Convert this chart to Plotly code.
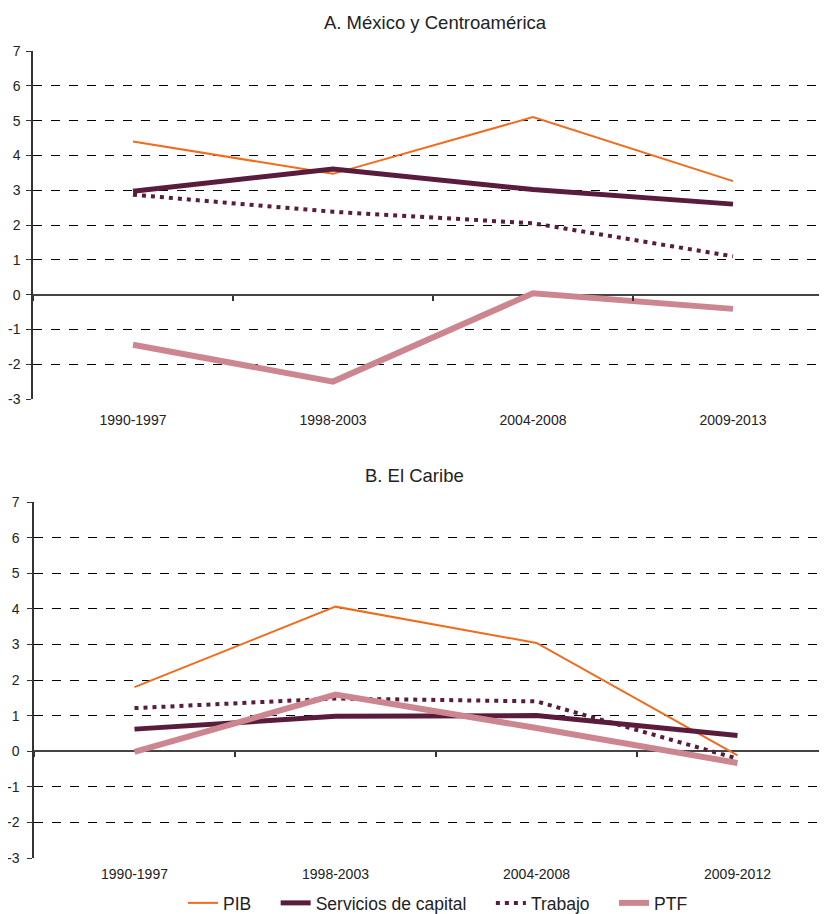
import plotly.graph_objects as go

periodos_a = ["1990-1997", "1998-2003", "2004-2008", "2009-2013"]
periodos_b = ["1990-1997", "1998-2003", "2004-2008", "2009-2012"]
valores_y = list(range(-3, 8))
etiquetas_y = [str(v) for v in valores_y]  # plain hyphen minus, like the original

# A. México y Centroamérica
pib_a = [4.4, 3.47, 5.1, 3.26]
capital_a = [2.97, 3.61, 3.02, 2.6]
trabajo_a = [2.87, 2.38, 2.05, 1.1]
ptf_a = [-1.44, -2.5, 0.04, -0.41]

# B. El Caribe
pib_b = [1.8, 4.06, 3.04, -0.12]
capital_b = [0.62, 0.98, 1.0, 0.44]
trabajo_b = [1.21, 1.48, 1.4, -0.21]
ptf_b = [-0.02, 1.59, 0.65, -0.33]

# page body has an 8px default margin, so the figure is shrunk by that much
OFF = 8
VW, VH = 827, 914
W, H = VW - OFF, VH - OFF
FONT = "Liberation Sans, Arial, sans-serif"
TXT = "#222222"
PAD = "\u00a0" * 4

estilos = [
    ("PIB" + PAD, "#F26A1B", 2, "solid"),
    ("Servicios de capital" + PAD, "#5A1C3C", 5, "solid"),
    ("Trabajo" + PAD, "#5A1C3C", 4, "4px,5px"),
    ("PTF", "#CC8690", 6, "solid"),
]


def px(x):
    # screen x -> paper fraction
    return (x - OFF) / W


def py(y):
    # screen y -> paper fraction
    return (H - (y - OFF)) / H


fig = go.Figure()

paneles = [
    ("", "y", periodos_a, [pib_a, capital_a, trabajo_a, ptf_a], True),
    ("2", "y2", periodos_b, [pib_b, capital_b, trabajo_b, ptf_b], False),
]
for suf, yref, periodos, series, show in paneles:
    xs = list(range(len(periodos)))
    for (nombre, color, ancho, dash), vals in zip(estilos, series):
        fig.add_trace(go.Scatter(
            x=xs, y=vals, mode="lines", name=nombre,
            line=dict(color=color, width=ancho, dash=dash),
            xaxis="x" + suf, yaxis=yref, showlegend=show,
        ))

# dummy traces so the zero-line tick axes render
fig.add_trace(go.Scatter(x=[None], y=[None], xaxis="x3", yaxis="y", showlegend=False))
fig.add_trace(go.Scatter(x=[None], y=[None], xaxis="x4", yaxis="y2", showlegend=False))

top_dom = [py(399), py(51)]
bot_dom = [py(858), py(502)]
x_top = [px(33), 1.0]
x_bot = [px(34), 1.0]
rng_top = [-0.5, -0.5 + (VW - 33) / 200]
rng_bot = [-0.5, -0.5 + (VW - 34) / 201]


def eje_y(dom, anchor, standoff):
    return dict(
        domain=dom, anchor=anchor, automargin=False,
        range=[-3, 7], tickvals=valores_y, ticktext=etiquetas_y,
        showline=True, linecolor="#333333", linewidth=1.5,
        ticks="outside", ticklen=5, tickcolor="#333333",
        showgrid=True, gridcolor="#000000", gridwidth=1, griddash="dash",
        zeroline=True, zerolinecolor="#444444", zerolinewidth=1.5,
        tickfont=dict(size=14, color=TXT, family=FONT), ticklabelstandoff=standoff,
    )


def eje_x(dom, rng, anchor, periodos, standoff):
    return dict(
        domain=dom, range=rng, anchor=anchor, automargin=False,
        tickvals=list(range(len(periodos))), ticktext=periodos,
        showline=False, showgrid=False, zeroline=False, ticks="",
        tickfont=dict(size=14, color=TXT, family=FONT), ticklabelstandoff=standoff,
    )


def eje_cero(dom, rng, over, ydom):
    return dict(
        domain=dom, range=rng, overlaying=over, anchor="free", automargin=False,
        position=ydom[0] + 0.3 * (ydom[1] - ydom[0]),
        tickvals=[-0.5, 0.5, 1.5, 2.5, 3.5], ticks="outside", ticklen=5,
        tickcolor="#333333", tickwidth=1.5, showticklabels=False, showline=False,
        showgrid=False, zeroline=False,
    )


fig.update_layout(
    width=W, height=H,
    margin=dict(l=0, r=0, t=0, b=0, autoexpand=False),
    paper_bgcolor="white", plot_bgcolor="white",
    font=dict(family=FONT, color=TXT),
    xaxis=eje_x(x_top, rng_top, "y", periodos_a, 11),
    yaxis=eje_y(top_dom, "x", 3),
    xaxis2=eje_x(x_bot, rng_bot, "y2", periodos_b, 6),
    yaxis2=eje_y(bot_dom, "x2", 5),
    xaxis3=eje_cero(x_top, rng_top, "x", top_dom),
    xaxis4=eje_cero(x_bot, rng_bot, "x2", bot_dom),
    legend=dict(orientation="h", x=px(183), xanchor="left", y=py(903), yanchor="middle",
                font=dict(size=17.5, family=FONT, color=TXT),
                bgcolor="rgba(0,0,0,0)"),
    annotations=[
        dict(text="A. México y Centroamérica", x=px(435), y=py(23), xref="paper", yref="paper",
             xanchor="center", yanchor="middle", showarrow=False,
             font=dict(size=18.5, family=FONT, color=TXT)),
        dict(text="B. El Caribe", x=px(414), y=py(475), xref="paper", yref="paper",
             xanchor="center", yanchor="middle", showarrow=False,
             font=dict(size=18.5, family=FONT, color=TXT)),
    ],
)

fig.write_html("out.html")
